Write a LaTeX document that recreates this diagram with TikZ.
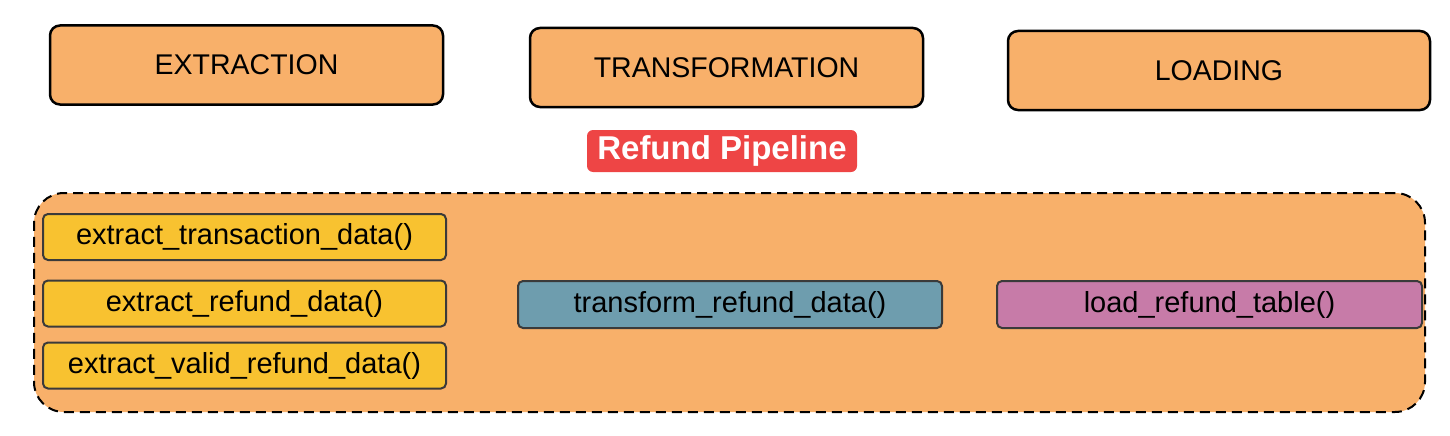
\documentclass[tikz,border=0pt]{standalone}
\usepackage{fontspec}
\setmainfont{Liberation Sans}
\usepackage{tikz}
\usepackage{xcolor}
\definecolor{phaseorange}{HTML}{F8B06A}
\definecolor{funcyellow}{HTML}{F8C230}
\definecolor{funcblue}{HTML}{6E9DAE}
\definecolor{funcpink}{HTML}{C77BA8}
\definecolor{tagred}{HTML}{EE4545}
\definecolor{edgegray}{HTML}{3A3A3A}

\begin{document}
\begin{tikzpicture}[x=1pt,y=-1pt,
    phase/.style={draw=black, line width=2.5pt, fill=phaseorange, rounded corners=10pt, inner sep=0pt,
        minimum height=79pt, font=\fontsize{28.5}{34}\selectfont},
    func/.style={draw=edgegray, line width=2pt, rounded corners=5pt, inner sep=0pt,
        minimum height=46pt, font=\fontsize{29}{34}\selectfont},
    tag/.style={fill=tagred, text=white, rounded corners=6pt, inner sep=0pt,
        minimum width=270pt, minimum height=42pt, font=\fontsize{33}{38}\selectfont\bfseries}]
    \useasboundingbox (0,0) rectangle (1450,436);
    % phases
    \node[phase, minimum width=393pt] (extraction) at (246.5,65) {EXTRACTION};
    \node[phase, minimum width=393pt] (transformation) at (726.5,67.5) {TRANSFORMATION};
    \node[phase, minimum width=422pt] (loading) at (1219,70.5) {LOADING};
    \node[tag] (pipelinetag) at (722,151) {Refund Pipeline};
    % pipeline
    \node[draw=black, dashed, dash pattern=on 10pt off 6pt, line width=2pt, fill=phaseorange,
        rounded corners=30pt, minimum width=1391pt, minimum height=219pt] (pipeline) at (729.5,302.5) {};
    \node[func, fill=funcyellow, minimum width=403pt] (extracttrans) at (244.5,237) {extract\_transaction\_data()};
    \node[func, fill=funcyellow, minimum width=403pt] (extractrefund) at (244.5,303.5) {extract\_refund\_data()};
    \node[func, fill=funcyellow, minimum width=403pt] (extractvalid) at (244.5,365.5) {extract\_valid\_refund\_data()};
    \node[func, fill=funcblue, minimum width=424pt, minimum height=47pt] (transformrefund) at (730,304.5) {transform\_refund\_data()};
    \node[func, fill=funcpink, minimum width=425pt, minimum height=47pt] (loadrefund) at (1209.5,304.5) {load\_refund\_table()};
\end{tikzpicture}
\end{document}
